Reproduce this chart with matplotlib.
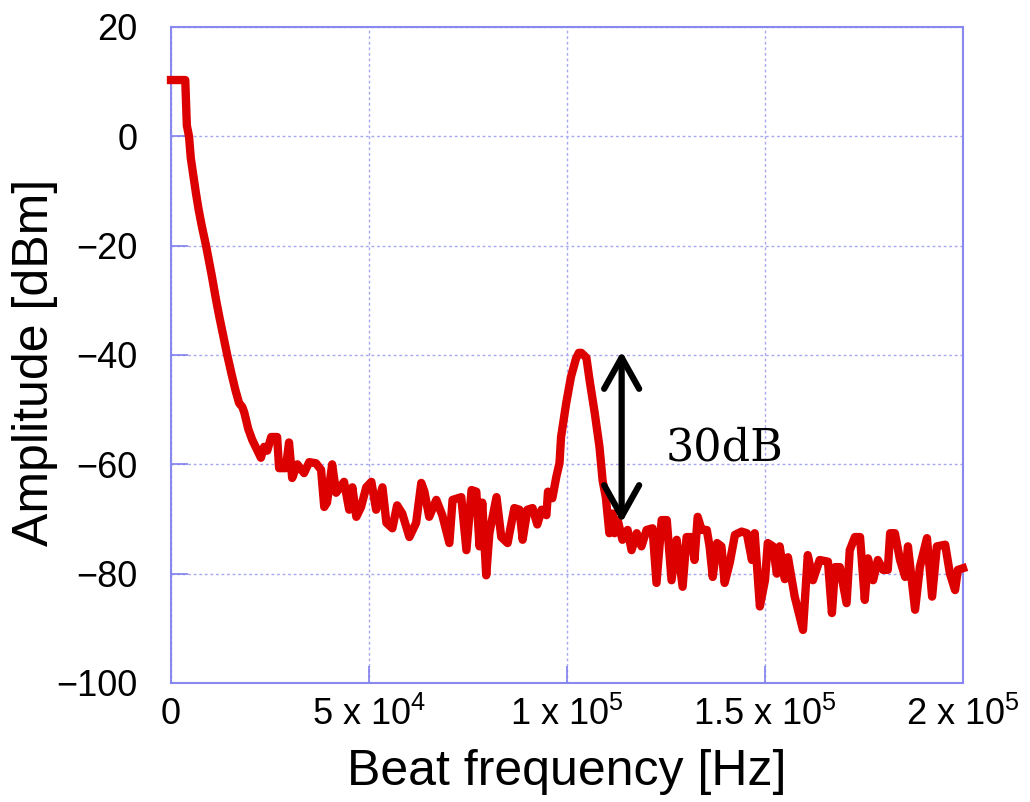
"""
 Beat frequency spectrum
"""

import matplotlib
matplotlib.use("Agg")
import matplotlib.pyplot as plt
from matplotlib import font_manager

# beat frequency in kHz, amplitude in dBm
freq_khz = [0, 3.6, 4.0, 4.55, 5.0, 5.6, 6.3, 7.0, 7.8, 8.85, 9.5, 10.3, 11.4, 12.2, 13.2,
            14.2, 15.3, 16.3, 17.2, 18.0, 18.5, 19.5, 20.5, 21.5, 22.7, 23.5, 24.3, 25.3,
            26.8, 27.3, 29.0, 29.8, 30.6, 31.9, 33.6, 34.9, 36.6, 37.9, 38.7, 39.4, 40.7,
            41.7, 43.7, 45.0, 45.8, 46.8, 48.0, 49.3, 50.6, 51.8, 53.4, 54.4, 55.9, 57.1,
            58.4, 60.2, 61.9, 63.2, 64.0, 65.2, 67.0, 68.5, 70.3, 71.1, 73.3, 74.6, 75.9,
            77.1, 77.9, 78.6, 79.6, 80.4, 82.2, 83.4, 85.0, 86.7, 88.0, 88.8, 90.0, 91.3,
            92.5, 93.6, 94.8, 95.2, 96.3, 97.3, 98.1, 98.5, 99.8, 101.0, 102.3, 103.0, 103.6,
            104.9, 105.7, 107.0, 108.2, 109.0, 109.8, 110.7, 111.5, 112.0, 112.8, 114.0,
            115.3, 116.3, 117.6, 118.8, 120.1, 121.6, 122.6, 123.9, 125.2, 126.4, 127.7,
            129.2, 130.2, 131.4, 132.2, 133.0, 134.0, 135.3, 136.0, 136.8, 137.9, 139.0,
            139.8, 141.1, 142.4, 144.1, 145.4, 146.7, 147.4, 148.7, 150.0, 150.7, 152.0,
            153.0, 153.7, 155.0, 155.8, 157.5, 159.6, 160.8, 162.1, 163.8, 165.9, 166.9,
            167.7, 168.9, 170.6, 171.4, 172.7, 174.0, 175.2, 176.0, 177.3, 178.5, 179.8,
            181.0, 181.6, 182.8, 184.1, 185.4, 186.1, 187.9, 189.1, 190.9, 192.2, 193.4,
            195.5, 196.7, 198.0, 198.7, 200.0]
amp_dbm = [10.3, 10.3, 2, 0, -4, -7, -10.4, -13.5, -16.5, -20, -22.5, -25.5, -30, -33, -36.5,
           -40, -43.5, -46.5, -48.8, -49.5, -50.5, -53.5, -55.5, -57, -58.8, -56.8, -57.5, -55,
           -55, -60.7, -60.7, -56, -62.5, -60, -61.6, -59.6, -59.8, -61, -67.8, -67, -60,
           -65.2, -63.2, -68.3, -64.2, -69.6, -67.8, -64.2, -63.2, -68.3, -64.2, -70.7, -71.7, -67.5,
           -69, -73.3, -70.7, -63.4, -65, -69.6, -66.5, -69.3, -74.4, -66.5, -66, -75.7, -64.7,
           -65, -75, -67, -80.3, -72.6, -66, -73.3, -74.4, -68, -68.3, -73.8, -68.3, -68,
           -71, -68.3, -69.3, -65, -66.2, -62.3, -59.8, -55, -48.8, -44, -40.6, -39.6, -39.6,
           -40.5, -44.6, -50.6, -56.8, -63, -66, -72.6, -69, -72.6, -70.2, -73.8,
           -72, -75.7, -72.6, -75, -72, -71.7, -81.7, -70.2, -70.2, -81.2, -73.8,
           -82.4, -73.3, -73.3, -77.5, -69.6, -72, -72, -75, -80.6, -74.4, -75,
           -81.7, -78, -72.9, -72.3, -72.6, -77.5, -72.6, -86, -81.2, -74.4, -75,
           -80, -75, -81, -77, -84.2, -90.3, -76.6, -81.2, -77.5, -77.8, -87.2,
           -78.8, -78.8, -85.4, -75.7, -73.3, -73.3, -84.8, -77.2, -81.2, -77.5, -79.3,
           -79.3, -72.6, -72.6, -77.5, -80.6, -75, -86.6, -78.8, -73.5, -84.2, -75,
           -74.7, -80, -83, -79.3, -79]

x_ticks = [0, 5e4, 1e5, 1.5e5, 2e5]
x_tick_labels = ["0", "5 x 10$^{4}$", "1 x 10$^{5}$", "1.5 x 10$^{5}$", "2 x 10$^{5}$"]
y_ticks = [20, 0, -20, -40, -60, -80, -100]
y_tick_labels = ["20", "0", "\u221220", "\u221240", "\u221260", "\u221280", "\u2212100"]

# peak to noise floor marker
arrow_x = 113.8e3
arrow_top = -39.3
arrow_bottom = -70.7

plt.rcParams['font.family'] = ['Liberation Sans', 'DejaVu Sans']
plt.rcParams['mathtext.default'] = 'regular'

# narrow face for the tick labels if it is there
names = {f.name for f in font_manager.fontManager.ttflist}
if 'Liberation Sans Narrow' in names:
    tick_family = ['Liberation Sans Narrow', 'DejaVu Sans']
    tick_size = 29
else:
    tick_family = ['Liberation Sans', 'DejaVu Sans']
    tick_size = 26

fig = plt.figure(figsize=(10.3, 8.02), dpi=100)
ax = fig.add_axes([171 / 1030, 1 - 683 / 802, (963 - 171) / 1030, (683 - 27) / 802])

freq_hz = [f * 1000 for f in freq_khz]
ax.plot(freq_hz, amp_dbm, color='#dd0000', lw=6, clip_on=False,
        solid_capstyle='projecting', solid_joinstyle='round', zorder=3)

ax.annotate("", xy=(arrow_x, arrow_top), xytext=(arrow_x, arrow_bottom),
            arrowprops=dict(arrowstyle='<->,head_length=0.75,head_width=0.42',
                            lw=4.5, color='black', mutation_scale=30,
                            shrinkA=0, shrinkB=0), zorder=4)
ax.text(125.0e3, -59.3, "30dB", family='DejaVu Serif', fontsize=32,
        ha='left', va='baseline', zorder=4)

ax.set_xlim(0, 2e5)
ax.set_ylim(-100, 20)
ax.set_xticks(x_ticks)
ax.set_xticklabels(x_tick_labels, fontsize=tick_size, family=tick_family)
ax.set_yticks(y_ticks)
ax.set_yticklabels(y_tick_labels, fontsize=tick_size, family=tick_family)
ax.tick_params(direction='in', length=12, width=1.2, color='#8080ee')
ax.tick_params(axis='x', pad=10)
ax.tick_params(axis='y', pad=24)

ax.grid(True, color='#a8a8f0', linestyle=(0, (2, 2)), lw=1.0)
for s in ax.spines.values():
    s.set_color('#8888ee')
    s.set_linewidth(1.5)

ax.set_xlabel("Beat frequency [Hz]", fontsize=36)
ax.set_ylabel("Amplitude [dBm]", fontsize=36)
ax.xaxis.set_label_coords(0.5, -0.1)
ax.yaxis.set_label_coords(-0.143, 0.488)

fig.savefig("out.png", dpi=100)
